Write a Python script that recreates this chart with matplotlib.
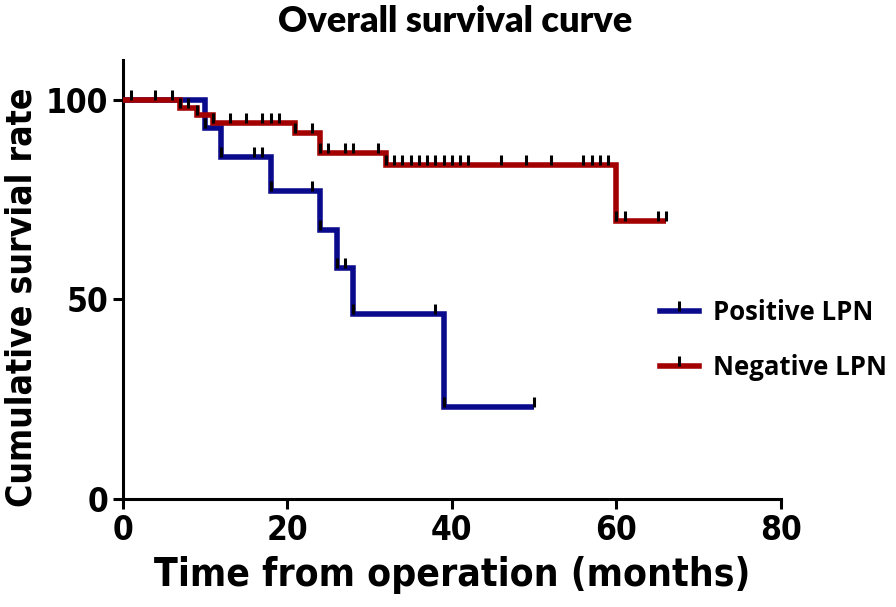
import matplotlib
matplotlib.use("Agg")
import matplotlib.pyplot as plt
from matplotlib import font_manager as fm
from matplotlib.lines import Line2D

# ---------------- data ----------------
pos_times = [0, 10, 12, 18, 24, 26, 28, 39, 50]
pos_surv = [100, 92.86, 85.71, 77.14, 67.5, 57.86, 46.3, 23.1, 23.1]
pos_cens_t = [10, 12, 16, 17, 18, 23, 24, 26, 27, 28, 38, 39, 50]

neg_times = [0, 7, 9, 11, 21, 24, 32, 60, 66]
neg_surv = [100, 98.0, 96.1, 94.2, 91.6, 86.7, 83.6, 69.6, 69.6]
neg_cens_t = [1, 4, 6, 7, 8, 9, 11, 13, 15, 17, 18, 19, 21, 23, 24, 25, 27, 28, 31,
              32, 33, 34, 35, 36, 37, 38, 39, 40, 41, 42, 46, 49, 52, 56, 57, 58, 59,
              60, 61, 65, 66]

x_ticks = [0, 20, 40, 60, 80]
y_ticks = [0, 50, 100]
labels = ["Positive LPN", "Negative LPN"]
title = "Overall survival curve"
xlabel = "Time from operation (months)"
ylabel = "Cumulative survial rate"

# ---------------- fonts ----------------
cond = None
for f in fm.fontManager.ttflist:
    n = f.name.lower()
    if ("narrow" in n or "condensed" in n or f.stretch in ("condensed", "semi-condensed")) \
            and f.weight in ("bold", 700) and f.style == "normal":
        cond = f.fname
        break
if cond:
    fp_axis = lambda size: fm.FontProperties(fname=cond, size=size)
else:
    fp_axis = lambda size: fm.FontProperties(family="Liberation Sans", weight="bold", size=size)
names = {f.name for f in fm.fontManager.ttflist}
legfam = "Open Sans" if "Open Sans" in names else "DejaVu Sans"
titlefam = "Lato" if "Lato" in names else "DejaVu Sans"

BLUE = "#0a0a8c"
RED = "#a30000"


def surv_at(times, surv, t):
    val = surv[0]
    for ti, si in zip(times, surv):
        if ti <= t:
            val = si
    return val


W, H = 896, 607
fig = plt.figure(figsize=(W / 100, H / 100), dpi=100)
ax = fig.add_axes([122.5 / W, (H - 499) / H, (781 - 122.5) / W, (499 - 60) / H])

lw = 4.0
ax.step(pos_times, pos_surv, where="post", color=BLUE, lw=lw, solid_joinstyle="miter",
        solid_capstyle="butt", zorder=3, clip_on=False)
ax.step(neg_times, neg_surv, where="post", color=RED, lw=lw, solid_joinstyle="miter",
        solid_capstyle="butt", zorder=3, clip_on=False)

pos_cens_y = [surv_at(pos_times, pos_surv, t) for t in pos_cens_t]
neg_cens_y = [surv_at(neg_times, neg_surv, t) for t in neg_cens_t]
mk = dict(marker=2, markersize=7, markeredgewidth=2.2, color="black", linestyle="none",
          zorder=4, clip_on=False)
ax.plot(pos_cens_t, pos_cens_y, **mk)
ax.plot(neg_cens_t, neg_cens_y, **mk)

ax.set_xlim(0, 80)
ax.set_ylim(0, 110)
ax.set_xticks(x_ticks)
ax.set_yticks(y_ticks)
for s in ["top", "right"]:
    ax.spines[s].set_visible(False)
for s in ["left", "bottom"]:
    ax.spines[s].set_linewidth(2.2)
ax.tick_params(width=2.2, length=7.5, direction="out", pad=3)
for lab in ax.get_xticklabels() + ax.get_yticklabels():
    lab.set_fontproperties(fp_axis(24))

ax.set_xlabel(xlabel, fontproperties=fp_axis(28), labelpad=7)
ax.set_ylabel(ylabel, fontproperties=fp_axis(25.5))
ax.yaxis.set_label_coords((39 - 122.5) / 658.5, (499 - 297) / 439)
fig.text(455 / W, 1 - 21 / H, title, ha="center", va="center", family=titlefam,
         weight="heavy", fontsize=26)

handles = []
for c in (BLUE, RED):
    h = Line2D([0, 0.5, 1], [0, 0, 0], color=c, lw=lw, marker=2, markersize=7,
               markeredgewidth=2.2, markeredgecolor="black", markevery=[1])
    handles.append(h)
leg = fig.legend(handles, labels, loc="center left", bbox_to_anchor=(660 / W, 1 - 340 / H),
                 frameon=False, borderpad=0, borderaxespad=0, handlelength=1.5,
                 handletextpad=0.55, labelspacing=1.1,
                 prop=dict(family=legfam, weight="bold", size=18.5))

fig.savefig("out.png", dpi=100)
